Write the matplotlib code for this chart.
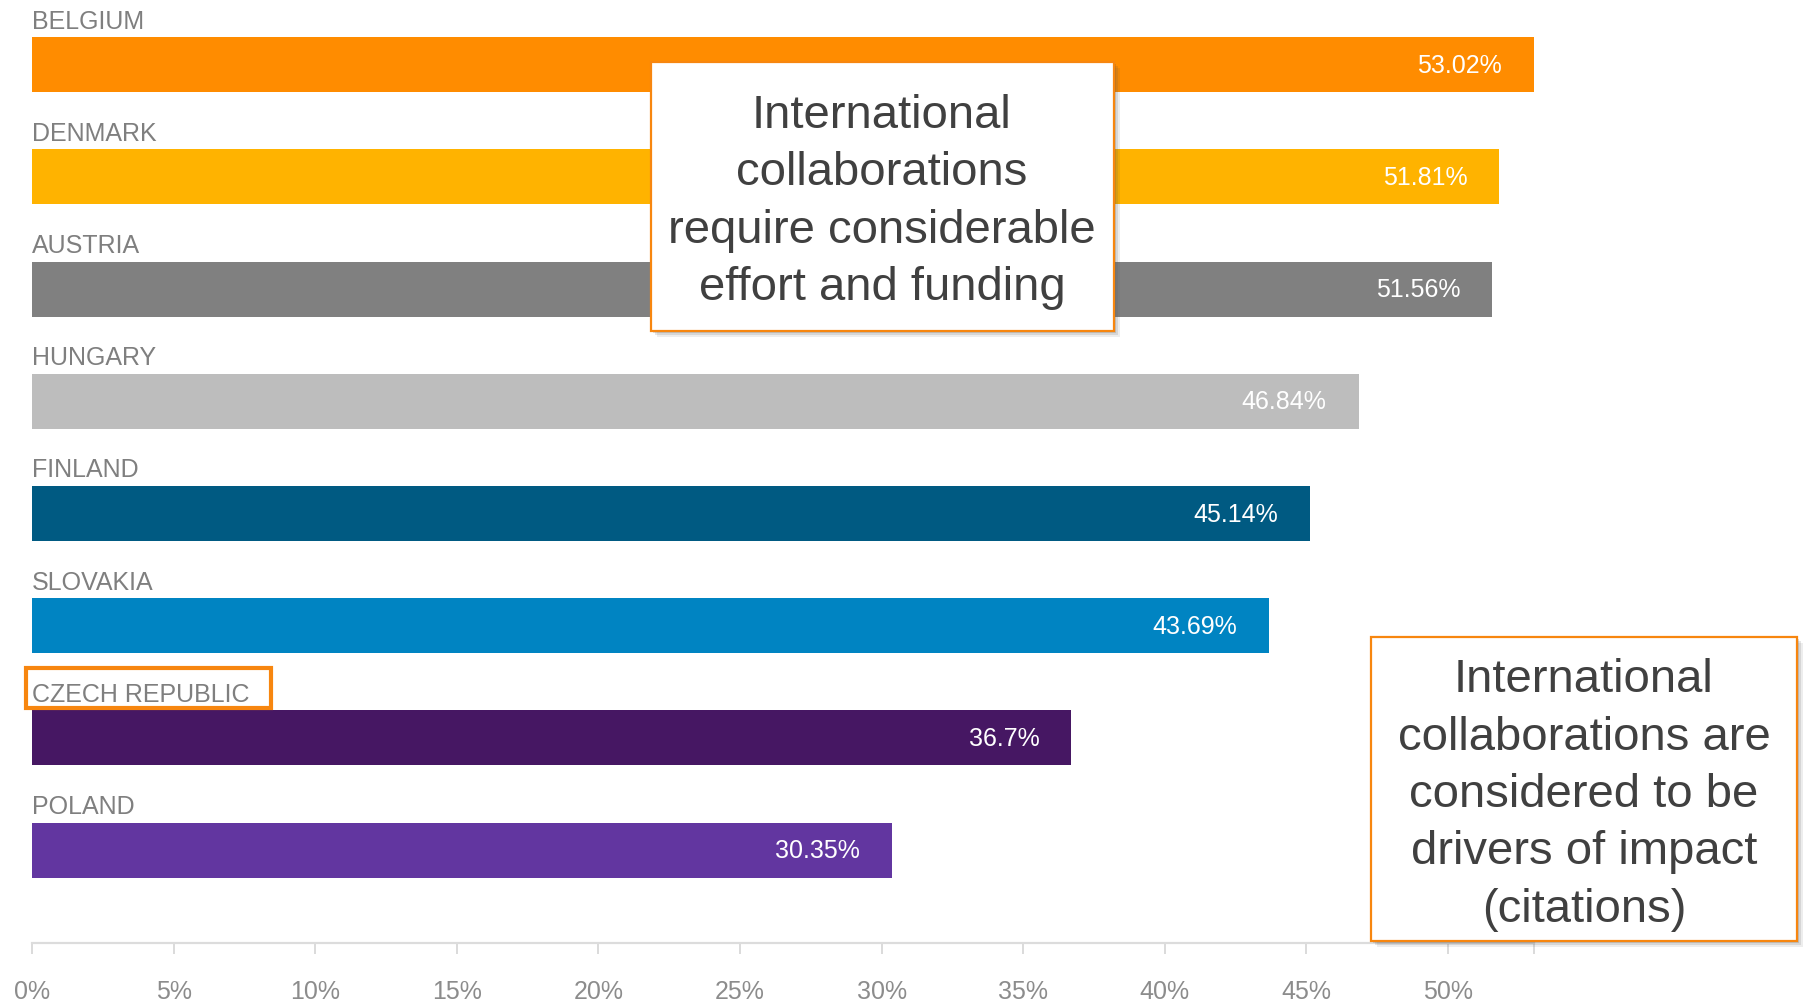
#!/usr/bin/env python
# horizontal bar chart: share of international collaborations per country

import matplotlib
matplotlib.use('Agg')
import matplotlib.pyplot as plt
from matplotlib.patches import Rectangle

### Data ###
#
countries = ['BELGIUM', 'DENMARK', 'AUSTRIA', 'HUNGARY', 'FINLAND',
             'SLOVAKIA', 'CZECH REPUBLIC', 'POLAND']
shares = [53.02, 51.81, 51.56, 46.84, 45.14, 43.69, 36.7, 30.35]
share_labels = ['53.02%', '51.81%', '51.56%', '46.84%', '45.14%',
                '43.69%', '36.7%', '30.35%']
bar_colors = ['#ff8c00', '#ffb300', '#808080', '#bdbdbd', '#005a82',
              '#0084c2', '#461763', '#6236a0']
tick_values = [0, 5, 10, 15, 20, 25, 30, 35, 40, 45, 50]
tick_labels = ['0%', '5%', '10%', '15%', '20%', '25%', '30%', '35%',
               '40%', '45%', '50%']
highlight = 'CZECH REPUBLIC'
note_top = 'International\ncollaborations\nrequire considerable\neffort and funding'
note_right = ('International\ncollaborations are\nconsidered to be\n'
              'drivers of impact\n(citations)')

### Layout (pixels of the 1806x1004 picture) ###
#
W, H = 1806, 1004
x0 = 32.0          # pixel of 0%
px_per_pct = 28.32
row0 = 65.7        # centre of first bar from top
row_step = 112.2
axis_y = 944.0
orange = '#f7860f'
lab_off = 0.33     # label baseline above bar centre, in rows

plt.rcParams['font.family'] = ['Liberation Sans', 'DejaVu Sans']

fig = plt.figure(figsize=(W / 100, H / 100), dpi=100)
ax = fig.add_axes([0, (H - axis_y) / H, 1, axis_y / H])
ax.set_xlim(-x0 / px_per_pct, (W - x0) / px_per_pct)
ax.set_ylim((axis_y - row0) / row_step, -row0 / row_step)

bar_h = 55 / row_step
ypos = list(range(len(countries)))
ax.barh(ypos, shares, height=bar_h, color=bar_colors, edgecolor='none')

for i, (name, v, lab) in enumerate(zip(countries, shares, share_labels)):
    ax.text(0, i - lab_off, name, ha='left', va='baseline',
            fontsize=18, color='#7f7f7f')
    ax.text(v - 32 / px_per_pct, i, lab, ha='right', va='center',
            fontsize=18, color='white')

# x axis
for s in ['top', 'right', 'left']:
    ax.spines[s].set_visible(False)
ax.spines['bottom'].set_bounds(0, shares[0])
ax.spines['bottom'].set_color('#dcdcdc')
ax.spines['bottom'].set_linewidth(1.6)
ax.set_yticks([])
ax.set_xticks(tick_values + [shares[0]])
ax.set_xticklabels(tick_labels + [''])
ax.tick_params(axis='x', length=8, width=1.2, color='#d4d4d4',
               labelsize=18, labelcolor='#8c8c8c', pad=18)


def px_box(x1, y1, x2, y2, lw, shadow=True):
    # rectangle given in picture pixels (top-left origin)
    fx, fy = x1 / W, (H - y2) / H
    fw, fh = (x2 - x1) / W, (y2 - y1) / H
    if shadow:
        for k, a in [(6, 0.10), (4, 0.15), (2, 0.2)]:
            fig.add_artist(Rectangle((fx + k / W, fy - k / H), fw, fh,
                                     transform=fig.transFigure,
                                     facecolor='#555555', alpha=a,
                                     edgecolor='none', zorder=5))
        face = 'white'
    else:
        face = 'none'
    fig.add_artist(Rectangle((fx, fy), fw, fh, transform=fig.transFigure,
                             facecolor=face, edgecolor=orange, linewidth=lw,
                             zorder=6))


# highlight on the Czech label
hi = countries.index(highlight)
lab_base = row0 + (hi - lab_off) * row_step
px_box(26, lab_base - 33, 271, lab_base + 7, 3.0, shadow=False)

# annotation boxes
px_box(651, 63, 1114, 332, 1.6)
fig.text(882 / W, 1 - 202 / H, note_top, ha='center', va='center',
         fontsize=34, color='#404040', linespacing=1.39, zorder=7)

px_box(1371, 638, 1797, 942, 1.6)
fig.text(1584 / W, 1 - 795 / H, note_right, ha='center', va='center',
         fontsize=34, color='#404040', linespacing=1.39, zorder=7)

fig.savefig('out.png', dpi=100, facecolor='white')
